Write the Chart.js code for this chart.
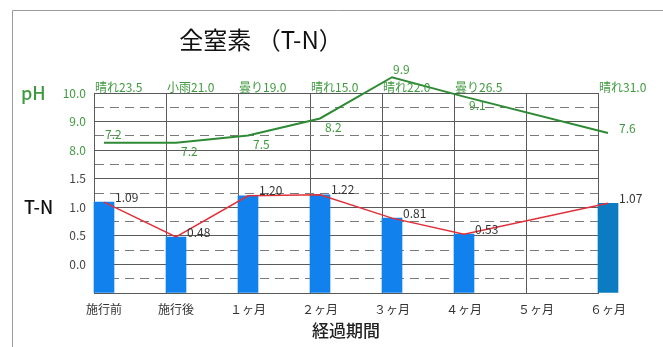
<!DOCTYPE html>
<html>
<head>
<meta charset="utf-8">
<script src="https://cdn.jsdelivr.net/npm/chart.js@4.4.0/dist/chart.umd.min.js"></script>
<style>
html, body { margin: 0; padding: 0; background: #fff; }
#wrap { position: relative; width: 663px; height: 347px; }
</style>
</head>
<body>
<div id="wrap"><canvas id="chart"></canvas></div>
<script>
// data
var periods = ['施行前', '施行後', '１ヶ月', '２ヶ月', '３ヶ月', '４ヶ月', '５ヶ月', '６ヶ月'];
var weather = ['晴れ23.5', '小雨21.0', '曇り19.0', '晴れ15.0', '晴れ22.0', '曇り26.5', '', '晴れ31.0'];
var tnValues = [1.09, 0.48, 1.20, 1.22, 0.81, 0.53, null, 1.07];
var phValues = [7.2, 7.2, 7.5, 8.2, 9.9, 9.1, null, 7.6];
var leftTickValues = [3.0, 2.5, 2.0, 1.5, 1.0, 0.5, 0.0];
var leftTickLabels = ['10.0', '9.0', '8.0', '1.5', '1.0', '0.5', '0.0'];
var leftTickIsPh = [true, true, true, false, false, false, false];

// where each pH label sits relative to its point (style only)
var phLabelPlace = ['above', 'below', 'below', 'below', 'above', 'below', null, 'right'];

var FONT = '"Noto Sans CJK JP", "Noto Sans", sans-serif';
var GREEN_TEXT = '#3f9a3f';
var GREEN_LINE = '#2f8a35';
var GRID_SOLID = '#5a5a5a';
var GRID_DASH = '#7a7a7a';
var barShift = 10 / 72;   // bars sit at the left edge of each cell

function isHalfStep(v) {
    return Math.abs(Math.round(v * 4)) % 2 === 1;
}

var extraText = {
    id: 'extraText',
    beforeDraw: function (c) {
        var g = c.ctx;
        g.save();
        g.strokeStyle = '#9a9a9a';
        g.lineWidth = 1;
        g.beginPath();
        g.moveTo(12.5, c.height);
        g.lineTo(12.5, 10.5);
        g.lineTo(c.width, 10.5);
        g.stroke();
        g.restore();
    },
    afterDatasetsDraw: function (c) {
        var g = c.ctx, xs = c.scales.x, ys = c.scales.y, area = c.chartArea;
        g.save();
        g.textBaseline = 'middle';

        g.font = '24px ' + FONT;
        g.fillStyle = '#111';
        g.textAlign = 'center';
        g.fillText('全窒素 （T-N）', 261, 40);

        g.font = '500 18px ' + FONT;
        g.textAlign = 'left';
        g.fillStyle = GREEN_TEXT;
        g.fillText('pH', 21, ys.getPixelForValue(3));
        g.fillStyle = '#111';
        g.fillText('T-N', 24, ys.getPixelForValue(1));

        g.font = '12px ' + FONT;
        g.fillStyle = GREEN_TEXT;
        weather.forEach(function (w, i) {
            if (w) g.fillText(w, xs.getPixelForValue(i) - 9, area.top - 6);
        });

        g.fillStyle = '#333';
        c.getDatasetMeta(1).data.forEach(function (pt, i) {
            if (tnValues[i] == null) return;
            g.fillText(tnValues[i].toFixed(2), pt.x + 11, pt.y - 5);
        });

        g.fillStyle = GREEN_TEXT;
        c.getDatasetMeta(2).data.forEach(function (pt, i) {
            var p = phLabelPlace[i];
            if (phValues[i] == null || !p) return;
            var s = phValues[i].toFixed(1);
            if (p === 'above') g.fillText(s, pt.x + 1, pt.y - 8);
            else if (p === 'below') g.fillText(s, pt.x + 5, pt.y + 9);
            else g.fillText(s, pt.x + 11, pt.y - 5);
        });
        g.restore();
    }
};

var ctx = document.getElementById('chart').getContext('2d');
var myChart = new Chart(ctx, {
    type: 'bar',
    data: {
        datasets: [{
            type: 'bar',
            label: 'T-N',
            data: tnValues.map(function (v, i) { return {x: i, y: v}; }),
            yAxisID: 'y',
            base: -0.5,
            barThickness: 20,
            backgroundColor: periods.map(function (p, i) { return i === periods.length - 1 ? '#0b7cc2' : '#1181ee'; }),
            clip: false,
            order: 3
        }, {
            type: 'line',
            label: 'T-N line',
            data: tnValues.map(function (v, i) { return {x: i, y: v}; }),
            yAxisID: 'y',
            borderColor: '#e0303a',
            borderWidth: 1.5,
            pointRadius: 0,
            spanGaps: true,
            clip: false,
            order: 2
        }, {
            type: 'line',
            label: 'pH',
            data: phValues.map(function (v, i) { return {x: i, y: v}; }),
            yAxisID: 'yph',
            borderColor: GREEN_LINE,
            borderWidth: 2,
            pointRadius: 0,
            spanGaps: true,
            clip: false,
            order: 1
        }]
    },
    options: {
        responsive: true,
        maintainAspectRatio: false,
        animation: false,
        layout: {padding: {left: 0, top: 93, right: 65, bottom: 0}},
        plugins: {legend: {display: false}, tooltip: {enabled: false}},
        scales: {
            x: {
                type: 'linear',
                offset: false,
                min: -barShift,
                max: 7 - barShift,
                afterBuildTicks: function (s) {
                    var t = [];
                    for (var k = 0; k <= 7; k++) t.push({value: k - barShift});
                    for (k = 0; k < periods.length; k++) t.push({value: k});
                    s.ticks = t;
                },
                afterFit: function (s) { s.height = 54; },
                grid: {
                    offset: false,
                    drawTicks: false,
                    color: function (c) {
                        return c.tick && Number.isInteger(c.tick.value) ? 'rgba(0,0,0,0)' : GRID_SOLID;
                    }
                },
                border: {color: GRID_SOLID},
                ticks: {
                    autoSkip: false,
                    maxRotation: 0,
                    padding: 9,
                    color: '#333',
                    font: {family: FONT, size: 12},
                    callback: function (v) {
                        return Number.isInteger(v) ? periods[v] : '';
                    }
                },
                title: {
                    display: true,
                    text: '経過期間',
                    color: '#222',
                    font: {family: FONT, size: 17, weight: '500'},
                    padding: {top: 0, bottom: 6}
                }
            },
            y: {
                type: 'linear',
                position: 'left',
                min: -0.5,
                max: 3,
                afterFit: function (s) { s.width = 94; },
                grid: {
                    drawTicks: false,
                    color: function (c) {
                        return c.tick && isHalfStep(c.tick.value) ? GRID_DASH : GRID_SOLID;
                    }
                },
                border: {
                    color: GRID_SOLID,
                    dash: function (c) {
                        return c.tick && isHalfStep(c.tick.value) ? [9, 6] : [];
                    }
                },
                ticks: {
                    stepSize: 0.25,
                    autoSkip: false,
                    padding: 8,
                    font: {family: FONT, size: 12},
                    color: function (c) {
                        var i = leftTickValues.indexOf(c.tick.value);
                        return i >= 0 && leftTickIsPh[i] ? GREEN_TEXT : '#444';
                    },
                    callback: function (v) {
                        var i = leftTickValues.indexOf(v);
                        return i >= 0 ? leftTickLabels[i] : '';
                    }
                }
            },
            yph: {
                type: 'linear',
                display: false,
                min: 1,
                max: 9.25
            }
        }
    },
    plugins: [extraText]
});
</script>
</body>
</html>
